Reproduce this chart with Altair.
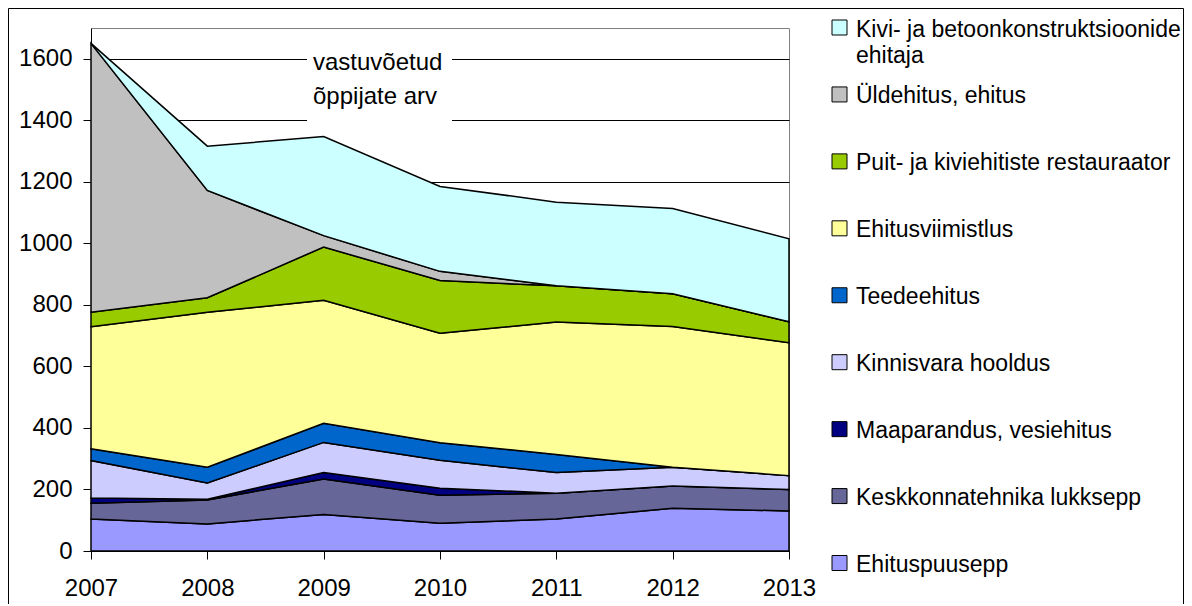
import altair as alt
import pandas as pd

years = [2007, 2008, 2009, 2010, 2011, 2012, 2013]

# series from bottom of the stack to the top
series_names = [
    "Ehituspuusepp",
    "Keskkonnatehnika lukksepp",
    "Maaparandus, vesiehitus",
    "Kinnisvara hooldus",
    "Teedeehitus",
    "Ehitusviimistlus",
    "Puit- ja kiviehitiste restauraator",
    "Üldehitus, ehitus",
    "Kivi- ja betoonkonstruktsioonide\nehitaja",
]
ehituspuusepp = [104, 88, 119, 90, 104, 139, 130]
keskkonnatehnika = [51, 78, 115, 91, 84, 72, 70]
maaparandus = [17, 2, 21, 23, 0, 0, 0]
kinnisvara = [122, 53, 98, 91, 67, 61, 45]
teedeehitus = [38, 51, 62, 57, 59, 0, 0]
ehitusviimistlus = [397, 504, 400, 356, 430, 458, 432]
puit_kivi = [47, 47, 173, 171, 118, 106, 68]
yldehitus = [874, 349, 37, 30, 0, 0, 0]
kivi_betoon = [0, 144, 322, 276, 272, 277, 270]
series_values = [ehituspuusepp, keskkonnatehnika, maaparandus, kinnisvara,
                 teedeehitus, ehitusviimistlus, puit_kivi, yldehitus, kivi_betoon]
colors = ["#9999FF", "#666699", "#000080", "#CCCCFF", "#0066CC",
          "#FFFF99", "#99CC00", "#C0C0C0", "#CCFFFF"]
y_ticks = [0, 200, 400, 600, 800, 1000, 1200, 1400, 1600]
annotation = ["vastuvõetud\nõppijate arv"]

FONT = "Liberation Sans"

rows = []
for i, (name, vals) in enumerate(zip(series_names, series_values)):
    for yr, v in zip(years, vals):
        rows.append({"year": yr, "series": name, "value": v, "order": i})
df = pd.DataFrame(rows)

legend_order = list(reversed(series_names))
leg_df = pd.DataFrame({"series": legend_order})
ann_df = pd.DataFrame({"txt": annotation})

color_scale = alt.Scale(domain=series_names, range=colors)

areas = alt.Chart(df).mark_area(
    stroke="black", strokeWidth=1.5, fillOpacity=1, strokeJoin="miter"
).encode(
    x=alt.X("year:Q",
            scale=alt.Scale(domain=[2007, 2013], nice=False, zero=False),
            axis=alt.Axis(values=years, format="d", title=None, grid=False,
                          tickSize=8, labelPadding=17, labelFontSize=24,
                          labelFlush=False, labelOverlap=False,
                          labelFont=FONT, labelColor="black",
                          domainColor="black", tickColor="black")),
    y=alt.Y("value:Q", stack="zero",
            scale=alt.Scale(domain=[0, 1700], nice=False),
            axis=alt.Axis(values=y_ticks, format="d", title=None, grid=True,
                          gridColor="black", gridWidth=1, gridOpacity=1,
                          tickSize=8, labelPadding=11, labelFontSize=24,
                          labelFlush=False, labelOverlap=False,
                          labelFont=FONT, labelColor="black",
                          domainColor="black", tickColor="black")),
    color=alt.Color("series:N", scale=color_scale, legend=None),
    order=alt.Order("order:Q", sort="ascending"),
)

leg_y = alt.Y("series:N",
              scale=alt.Scale(type="point", domain=legend_order,
                              range=[-0.5, 535], padding=0),
              axis=None)

leg_symbols = alt.Chart(leg_df).mark_square(
    size=225, filled=True, stroke="black", strokeWidth=1, opacity=1
).encode(
    x=alt.value(748.5),
    y=leg_y,
    color=alt.Color("series:N", scale=color_scale, legend=None),
)

leg_text = alt.Chart(leg_df).mark_text(
    align="left", baseline="alphabetic", dy=9, fontSize=23, font=FONT,
    lineBreak="\n", lineHeight=26, color="black"
).encode(
    x=alt.value(765),
    y=leg_y,
    text="series:N",
)

one = alt.Data(values=[{"k": 1}])

box = alt.Chart(one).mark_rect(fill="white").encode(
    x=alt.value(216), x2=alt.value(361), y=alt.value(12), y2=alt.value(97)
)

ann_text = alt.Chart(ann_df).mark_text(
    align="left", baseline="alphabetic", fontSize=24, font=FONT,
    lineBreak="\n", lineHeight=34, color="black"
).encode(
    x=alt.value(222), y=alt.value(42), text="txt:N"
)

border_left = alt.Chart(one).mark_rule(color="black", strokeWidth=1).encode(
    x=alt.value(-82.5), y=alt.value(-19.5), y2=alt.value(600)
)
border_top = alt.Chart(one).mark_rule(color="black", strokeWidth=1).encode(
    x=alt.value(-82.5), x2=alt.value(1092.5), y=alt.value(-19.5)
)
border_right = alt.Chart(one).mark_rule(color="black", strokeWidth=1).encode(
    x=alt.value(1092.5), y=alt.value(-19.5), y2=alt.value(600)
)

chart = alt.layer(
    areas, box, ann_text, leg_symbols, leg_text,
    border_left, border_top, border_right
).resolve_scale(
    y="independent"
).properties(
    width=698, height=523,
    padding={"left": 83, "top": 20, "right": 395, "bottom": 53},
    autosize=alt.AutoSizeParams(type="none"),
).configure(
    font=FONT, background="white"
).configure_view(
    stroke="#808080", strokeWidth=1
)

chart.save("out.html", embed_options={"renderer": "svg", "actions": False})
